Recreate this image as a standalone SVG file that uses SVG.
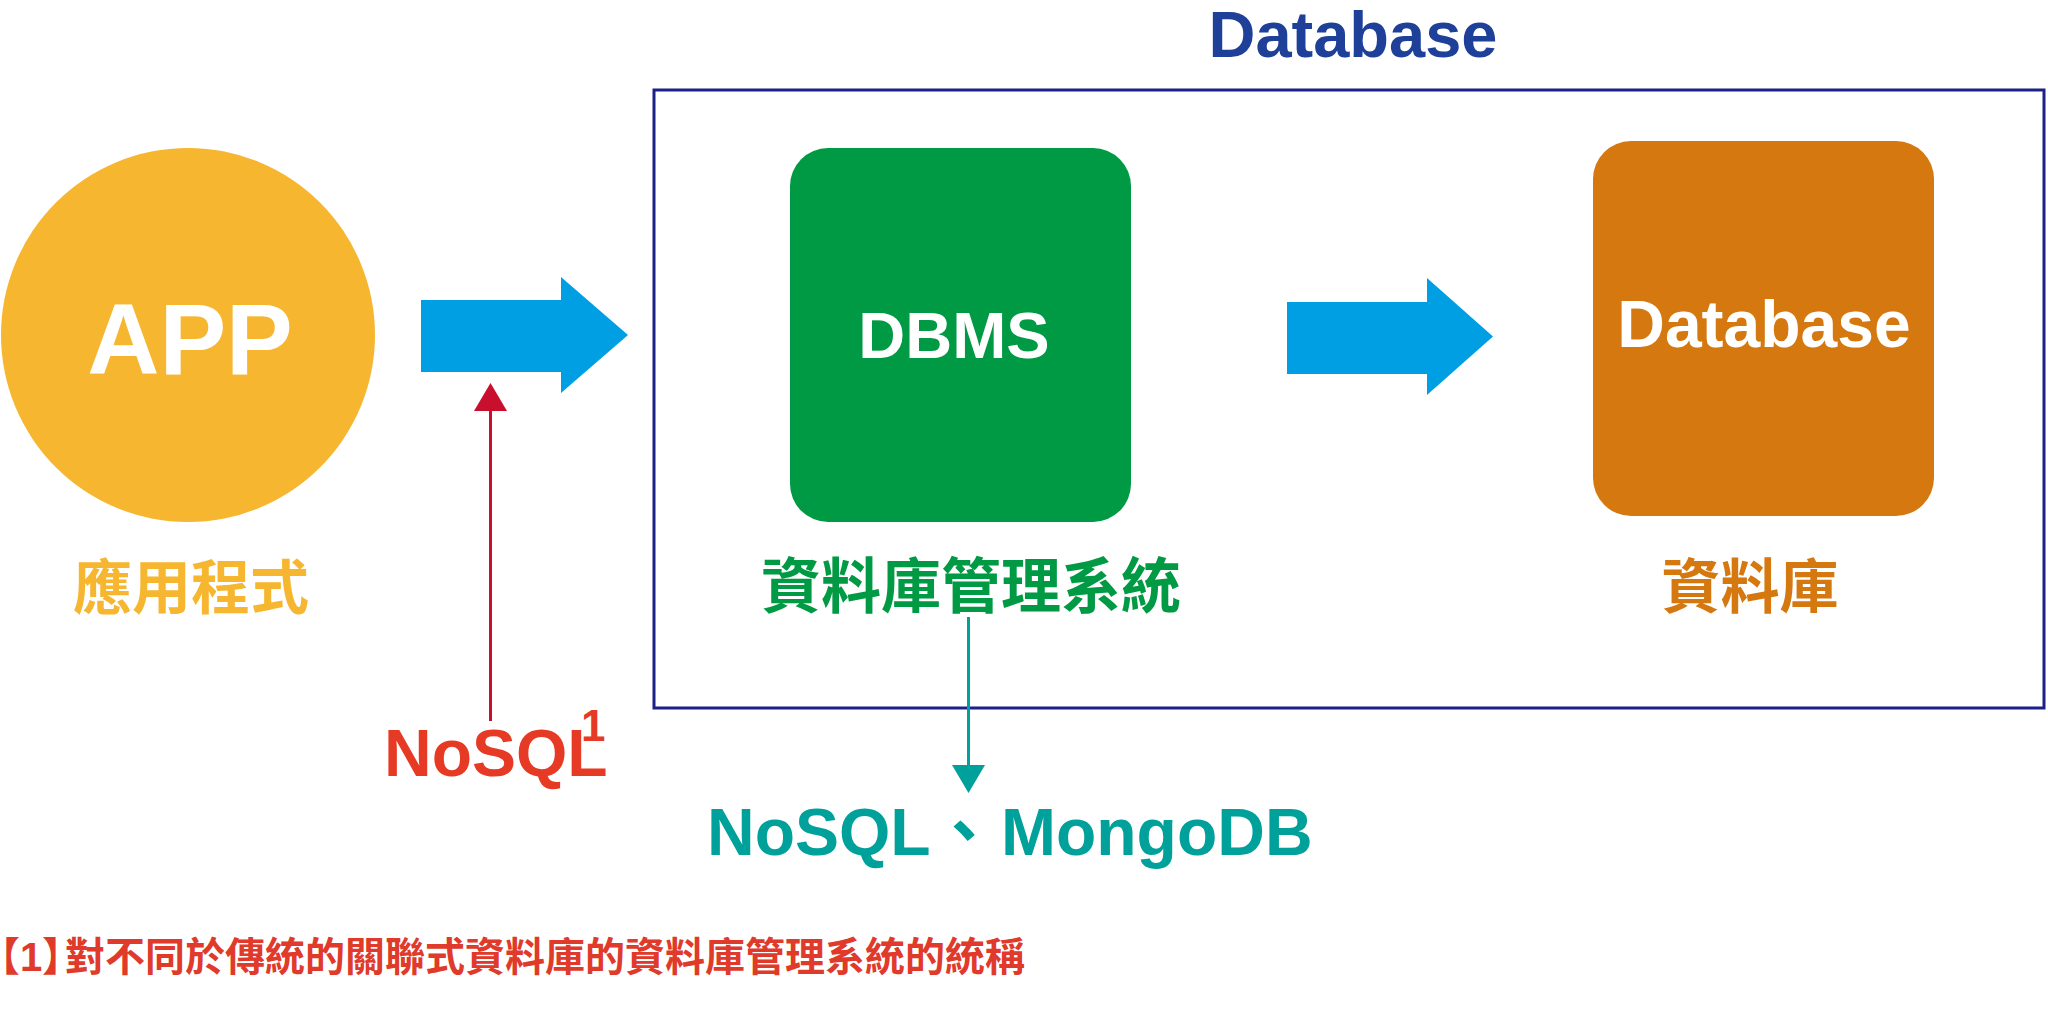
<svg xmlns="http://www.w3.org/2000/svg" width="2048" height="1020" viewBox="0 0 2048 1020">
<style>
  .lat { font-family: "Liberation Sans", Arial, sans-serif; font-weight: 700; }
  .cjk { font-family: "Noto Sans CJK TC", "Noto Sans CJK SC", sans-serif; font-weight: 700; }
  .halt { font-feature-settings: "halt"; }
  .blue { fill: #009fe3; }
</style>
<rect width="2048" height="1020" fill="#ffffff"/>

<g id="container">
  <rect x="654" y="90" width="1390" height="618" fill="none" stroke="#1d2088" stroke-width="3"/>
  <text class="lat" x="1353" y="57" font-size="65" fill="#1e4099" text-anchor="middle">Database</text>
</g>

<g id="app">
  <circle cx="188" cy="335" r="187" fill="#f6b62f"/>
  <text class="lat" x="190" y="374" font-size="100" fill="#ffffff" text-anchor="middle">APP</text>
  <text class="cjk" x="191" y="609" font-size="59" fill="#f6b62f" text-anchor="middle">應用程式</text>
</g>

<g id="dbms">
  <rect x="790" y="148" width="341" height="374" rx="38" ry="38" fill="#009a44"/>
  <text class="lat" x="954" y="358" font-size="65" fill="#ffffff" text-anchor="middle">DBMS</text>
  <text class="cjk" x="971" y="608" font-size="60" fill="#009a44" text-anchor="middle">資料庫管理系統</text>
</g>

<g id="database">
  <rect x="1593" y="141" width="341" height="375" rx="38" ry="38" fill="#d4780f"/>
  <text class="lat" x="1764" y="347" font-size="66" fill="#ffffff" text-anchor="middle">Database</text>
  <text class="cjk" x="1750" y="608" font-size="59" fill="#d4780f" text-anchor="middle">資料庫</text>
</g>

<g id="nosql-label">
  <text class="lat" x="384" y="776" font-size="66" fill="#e63a24">NoSQL<tspan x="581" y="741" font-size="44">1</tspan></text>
</g>

<g id="nosql-mongodb">
  <text class="lat" y="855" font-size="66" fill="#00a19a"><tspan x="707">NoSQL</tspan><tspan class="cjk" x="931">、</tspan><tspan x="1001">MongoDB</tspan></text>
</g>

<g id="footnote">
  <text class="cjk" y="971" font-size="40" fill="#e03a2a"><tspan class="halt" x="0">【</tspan><tspan class="lat" x="20">1</tspan><tspan class="halt" x="42">】</tspan><tspan x="65">對不同於傳統的關聯式資料庫的資料庫管理系統的統稱</tspan></text>
</g>

<g id="connectors">
  <polygon class="blue" points="421,300 561,300 561,277 628,335 561,393 561,372 421,372"/>
  <polygon class="blue" points="1287,302 1427,302 1427,278 1493,336.5 1427,395 1427,374 1287,374"/>
  <line x1="490.5" y1="721" x2="490.5" y2="408" stroke="#c8102e" stroke-width="3"/>
  <polygon points="474,411 507,411 490.5,383" fill="#c8102e"/>
  <line x1="968.5" y1="617" x2="968.5" y2="768" stroke="#00a19a" stroke-width="3"/>
  <polygon points="952,765 985,765 968.5,793" fill="#00a19a"/>
</g>
</svg>
